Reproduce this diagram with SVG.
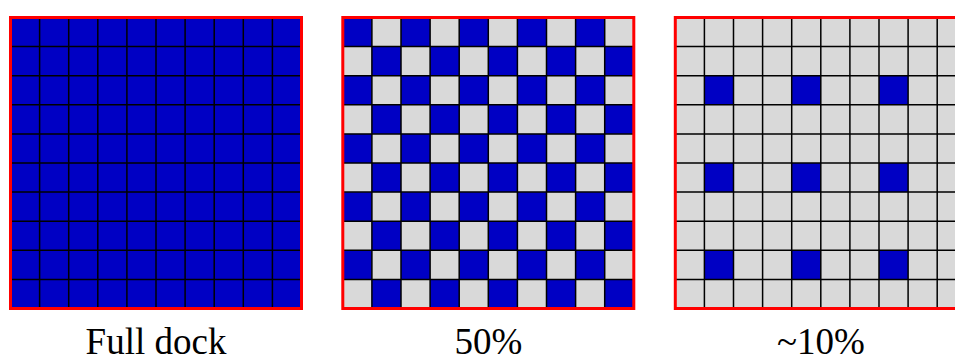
<svg xmlns="http://www.w3.org/2000/svg" xmlns:xlink="http://www.w3.org/1999/xlink" width="955" height="361" viewBox="0 0 955 361">
<style>
.blue{fill:#0000C4}
.gray{fill:#D9D9D9}
.lines{fill:none;stroke:#000;stroke-width:1.5}
.border{fill:none;stroke:#FF0000;stroke-width:3}
.label{font-size:37px;fill:#000;text-anchor:middle}
</style>
<defs>
<rect id="cell" width="29.1" height="29.1"/>
<path id="grid" d="M29.1 0V291M58.2 0V291M87.3 0V291M116.4 0V291M145.5 0V291M174.6 0V291M203.7 0V291M232.8 0V291M261.9 0V291M0 29.1H291M0 58.2H291M0 87.3H291M0 116.4H291M0 145.5H291M0 174.6H291M0 203.7H291M0 232.8H291M0 261.9H291"/>
<g id="rowE"><use xlink:href="#cell" x="0"/><use xlink:href="#cell" x="58.2"/><use xlink:href="#cell" x="116.4"/><use xlink:href="#cell" x="174.6"/><use xlink:href="#cell" x="232.8"/></g>
<g id="rowO"><use xlink:href="#cell" x="29.1"/><use xlink:href="#cell" x="87.3"/><use xlink:href="#cell" x="145.5"/><use xlink:href="#cell" x="203.7"/><use xlink:href="#cell" x="261.9"/></g>
</defs>
<g id="full-dock" transform="translate(10.5,17.5)">
<rect class="blue" width="291" height="291"/>
<use xlink:href="#grid" class="lines"/>
<rect class="border" width="291" height="291"/>
<text class="label" font-family="'Liberation Serif','DejaVu Serif',serif" x="145.5" y="336">Full dock</text>
</g>
<g id="half" transform="translate(342.8,17.5)">
<rect class="gray" width="291" height="291"/>
<g class="blue">
<use xlink:href="#rowE" y="0"/>
<use xlink:href="#rowO" y="29.1"/>
<use xlink:href="#rowE" y="58.2"/>
<use xlink:href="#rowO" y="87.3"/>
<use xlink:href="#rowE" y="116.4"/>
<use xlink:href="#rowO" y="145.5"/>
<use xlink:href="#rowE" y="174.6"/>
<use xlink:href="#rowO" y="203.7"/>
<use xlink:href="#rowE" y="232.8"/>
<use xlink:href="#rowO" y="261.9"/>
</g>
<use xlink:href="#grid" class="lines"/>
<rect class="border" width="291" height="291"/>
<text class="label" font-family="'Liberation Serif','DejaVu Serif',serif" x="145.5" y="336">50%</text>
</g>
<g id="tenth" transform="translate(675.3,17.5)">
<rect class="gray" width="291" height="291"/>
<g class="blue">
<use xlink:href="#cell" x="29.1" y="58.2"/><use xlink:href="#cell" x="116.4" y="58.2"/><use xlink:href="#cell" x="203.7" y="58.2"/>
<use xlink:href="#cell" x="29.1" y="145.5"/><use xlink:href="#cell" x="116.4" y="145.5"/><use xlink:href="#cell" x="203.7" y="145.5"/>
<use xlink:href="#cell" x="29.1" y="232.8"/><use xlink:href="#cell" x="116.4" y="232.8"/><use xlink:href="#cell" x="203.7" y="232.8"/>
</g>
<use xlink:href="#grid" class="lines"/>
<rect class="border" width="291" height="291"/>
<text class="label" font-family="'Liberation Serif','DejaVu Serif',serif" x="145.5" y="336">~10%</text>
</g>
<g id="connectors"/>
</svg>
